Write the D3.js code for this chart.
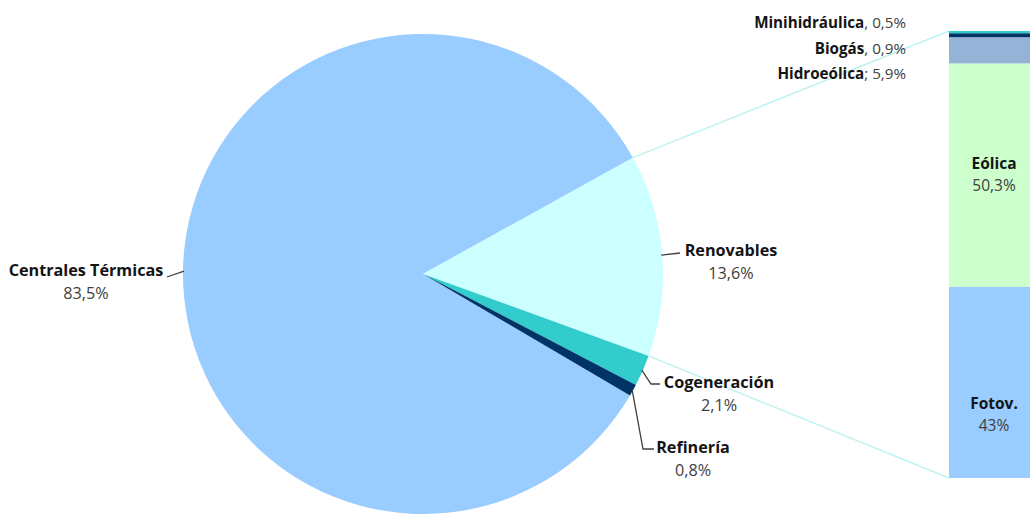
<!DOCTYPE html>
<html>
<head>
<meta charset="utf-8">
<script src="https://cdn.jsdelivr.net/npm/d3@7"></script>
<style>
  html, body { margin: 0; padding: 0; background: #fff; }
  svg { display: block; font-family: "Open Sans", "Noto Sans", sans-serif; }
  .name { font-weight: 700; fill: #141414; }
  .val { fill: #404040; }
</style>
</head>
<body>
<svg id="chart" width="1030" height="516"></svg>
<script>
// Electricity generation by source (%)
const sourceNames = ["Centrales Térmicas", "Renovables", "Cogeneración", "Refinería"];
const sourceValues = [83.5, 13.6, 2.1, 0.8];
const sourceLabels = ["83,5%", "13,6%", "2,1%", "0,8%"];
const sourceColors = ["#99ccff", "#ccffff", "#33cccc", "#003366"];

// Breakdown of the renewable share (%), stacked from the bottom
const renewNames = ["Fotov.", "Eólica", "Hidroeólica", "Biogás", "Minihidráulica"];
const renewValues = [43, 50.3, 5.9, 0.9, 0.5];
const renewLabels = ["43%", "50,3%", "5,9%", "0,9%", "0,5%"];
const renewColors = ["#99ccff", "#ccffcc", "#95b3d7", "#003366", "#33cccc"];

const svg = d3.select("#chart");
const deg = Math.PI / 180;

// ---- Pie ----
const cx = 423, cy = 274, R = 240;
const renStart = 61 * deg; // where the renewable slice begins (clockwise from 12 o'clock)
const total = d3.sum(sourceValues);
const startAngle = renStart - (sourceValues[0] / total) * 2 * Math.PI;

const pie = d3.pie().sort(null).value(d => d)
  .startAngle(startAngle).endAngle(startAngle + 2 * Math.PI);
const arcs = pie(sourceValues);
const arc = d3.arc().innerRadius(0).outerRadius(R);

const g = svg.append("g").attr("transform", `translate(${cx},${cy})`);
g.selectAll("path").data(arcs).join("path")
  .attr("d", arc)
  .attr("fill", (d, i) => sourceColors[i]);

const edgePoint = (a, r) => [cx + r * Math.sin(a), cy - r * Math.cos(a)];

// ---- Stacked bar of renewables ----
const barX = 949, barW = 92, barTop = 31, barBottom = 478;
const y = d3.scaleLinear().domain([0, d3.sum(renewValues)]).range([barBottom, barTop]);
const cum = d3.cumsum(renewValues);
const stacks = renewValues.map((v, i) => ({ y0: cum[i] - v, y1: cum[i], i }));

// connector lines from the renewable slice to the bar
const ren = arcs[1];
const pTop = edgePoint(ren.startAngle, R);
const pBot = edgePoint(ren.endAngle, R);
svg.append("line").attr("x1", pTop[0]).attr("y1", pTop[1]).attr("x2", barX).attr("y2", y(d3.sum(renewValues)))
  .attr("stroke", "#bff3f3").attr("stroke-width", 1.5);
svg.append("line").attr("x1", pBot[0]).attr("y1", pBot[1]).attr("x2", barX).attr("y2", y(0))
  .attr("stroke", "#bff3f3").attr("stroke-width", 1.5);

svg.selectAll("rect.seg").data(stacks).join("rect")
  .attr("class", "seg")
  .attr("x", barX).attr("width", barW)
  .attr("y", d => y(d.y1)).attr("height", d => y(d.y0) - y(d.y1))
  .attr("fill", d => renewColors[d.i]);

// labels inside the two large bar segments
const barCx = barX + barW / 2 - 1;
[0, 1].forEach(i => {
  const mid = y((stacks[i].y0 + stacks[i].y1) / 2);
  const yc = i === 0 ? mid + 32 : mid - 1;
  const t = svg.append("text").attr("text-anchor", "middle").style("font-size", "15.5px");
  t.append("tspan").attr("class", "name").attr("x", barCx).attr("y", yc - 5).text(renewNames[i]);
  t.append("tspan").attr("class", "val").attr("x", barCx).attr("y", yc + 17).text(renewLabels[i]);
});

// labels for the thin top segments, placed to the left of the bar
const smallLabelY = { 4: 28, 3: 54, 2: 79 };
[4, 3, 2].forEach(i => {
  const t = svg.append("text").attr("x", 906).attr("y", smallLabelY[i])
    .attr("text-anchor", "end").style("font-size", "15.2px");
  t.append("tspan").attr("class", "name").text(renewNames[i]);
  t.append("tspan").attr("class", "val").text((i === 2 ? "; " : ", ") + renewLabels[i]);
});

// ---- Pie labels with leader lines ----
const pieLabelLayout = [
  { x: 86,  y: 276, elbow: null,      end: [167, 277] },
  { x: 731, y: 256, elbow: null,      end: [680, 253] },
  { x: 719, y: 388, elbow: [651, 384], end: [660, 384] },
  { x: 693, y: 453, elbow: [643, 449], end: [654, 449] }
];

arcs.forEach((d, i) => {
  const L = pieLabelLayout[i];
  const mid = (d.startAngle + d.endAngle) / 2;
  const p0 = edgePoint(mid, R - 1);
  const pts = [p0];
  if (L.elbow) pts.push(L.elbow);
  pts.push(L.end);
  svg.append("path")
    .attr("d", d3.line()(pts))
    .attr("fill", "none").attr("stroke", "#404040").attr("stroke-width", 1.3);

  const t = svg.append("text").attr("text-anchor", "middle").style("font-size", "16.2px");
  t.append("tspan").attr("class", "name").attr("x", L.x).attr("y", L.y).text(sourceNames[i]);
  t.append("tspan").attr("class", "val").attr("x", L.x).attr("y", L.y + 23).text(sourceLabels[i]);
});
</script>
</body>
</html>
